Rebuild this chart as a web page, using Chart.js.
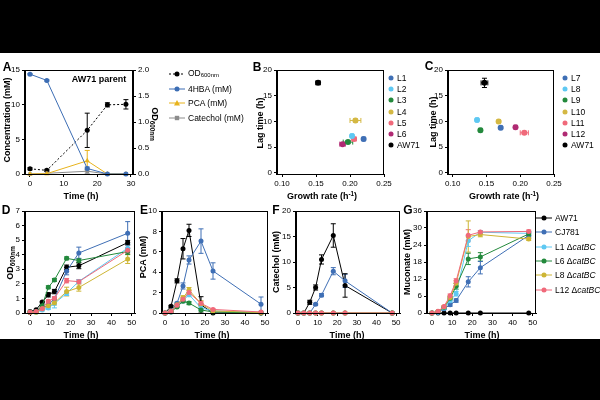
<!DOCTYPE html>
<html><head><meta charset="utf-8">
<script src="https://cdn.jsdelivr.net/npm/chart.js@4.4.1/dist/chart.umd.min.js"></script>
<style>
body{margin:0;width:600px;height:400px;background:#000;position:relative;overflow:hidden;font-family:'Liberation Sans',Arial,sans-serif}
#white{position:absolute;left:0;top:53px;width:600px;height:286px;background:#fff}
canvas{position:absolute}
.t{position:absolute;white-space:nowrap;color:#000;line-height:1;z-index:5}
.t sub{font-size:0.7em;vertical-align:-0.25em}
.t sup{font-size:0.7em;vertical-align:0.45em}
.lg{position:absolute;z-index:5}
</style></head>
<body><div id="white"></div>
<script>
// ---------- DATA ----------
// Panel A (AW71 parent)
const timeA = [0, 5, 17, 23, 28.5];
const odA = [0.10, 0.07, 0.84, 1.33, 1.34];
const odErrA = [0.02, 0.02, 0.33, 0.04, 0.09];
const hbaA = [14.4, 13.5, 0.8, 0, 0];
const hbaErrA = [0.1, 0.1, 0.2, 0, 0];
const pcaA = [0, 0.05, 1.9, 0, 0];
const pcaErrA = [0, 0, 1.5, 0, 0];
const catA = [0, 0.1, 0.4, 0, 0];
const catErrA = [0, 0, 0.3, 0, 0];
const seriesA = ['OD<sub>600nm</sub>', '4HBA (mM)', 'PCA (mM)', 'Catechol (mM)'];

// Panel B
const strainsB = ['L1', 'L2', 'L3', 'L4', 'L5', 'L6', 'AW71'];
const rateB = [0.220, 0.203, 0.197, 0.208, 0.206, 0.189, 0.153];
const rateErrB = [0.002, 0.002, 0.007, 0.008, 0.003, 0.004, 0.003];
const lagB = [6.6, 7.2, 6.0, 10.2, 6.6, 5.6, 17.5];
const lagErrB = [0.2, 0.2, 0.3, 0.3, 0.2, 0.2, 0.3];

// Panel C
const strainsC = ['L7', 'L8', 'L9', 'L10', 'L11', 'L12', 'AW71'];
const rateC = [0.171, 0.136, 0.141, 0.168, 0.206, 0.193, 0.147];
const rateErrC = [0.002, 0.002, 0.002, 0.002, 0.006, 0.002, 0.005];
const lagC = [8.8, 10.3, 8.3, 10.0, 7.8, 8.9, 17.5];
const lagErrC = [0.2, 0.2, 0.2, 0.2, 0.3, 0.2, 0.9];

// Panels D-G
const timeDG = [0, 3, 6, 9, 12, 18, 24, 48];
const strainsDG = ['AW71', 'CJ781', 'L1 Δ<i>catBC</i>', 'L6 Δ<i>catBC</i>', 'L8 Δ<i>catBC</i>', 'L12 Δ<i>catBC</i>'];
// D: OD600
const odD_AW71 = [0.1, 0.22, 0.75, 1.25, 1.47, 3.14, 3.24, 4.83];
const odD_CJ781 = [0.05, 0.1, 0.3, 0.55, 0.98, 2.87, 4.12, 5.47];
const odD_L1 = [0.05, 0.05, 0.2, 0.35, 0.65, 1.35, 2.17, 4.45];
const odD_L6 = [0.05, 0.1, 0.5, 1.77, 2.27, 3.75, 3.6, 4.22];
const odD_L8 = [0.05, 0.05, 0.3, 0.5, 0.7, 1.47, 1.75, 3.7];
const odD_L12 = [0.05, 0.1, 0.3, 0.8, 1.02, 2.22, 2.15, 4.3];
const odDErr_AW71 = [0, 0, 0.05, 0.15, 0.15, 0.15, 0.2, 0.15];
const odDErr_CJ781 = [0, 0, 0.05, 0.1, 0.1, 0.25, 0.4, 0.8];
const odDErr_L1 = [0, 0, 0.05, 0.1, 0.3, 0.15, 0.1, 0.3];
const odDErr_L6 = [0, 0, 0.05, 0.1, 0.1, 0.1, 0.15, 0.2];
const odDErr_L8 = [0, 0, 0.05, 0.1, 0.15, 0.3, 0.25, 0.3];
const odDErr_L12 = [0, 0, 0.05, 0.1, 0.1, 0.15, 0.15, 0.2];
// E: PCA
const pcaE_AW71 = [0, 0.65, 3.15, 6.3, 8.1, 0.8, 0, 0];
const pcaE_CJ781 = [0, 0.15, 0.95, 2.65, 5.2, 7.05, 4.12, 0.87];
const pcaE_L1 = [0, 0.1, 0.7, 1.2, 1.8, 0.5, 0.2, 0.05];
const pcaE_L6 = [0, 0.1, 0.6, 1.15, 0.97, 0.3, 0.1, 0];
const pcaE_L8 = [0, 0.15, 0.8, 1.5, 2.25, 0.9, 0.2, 0.05];
const pcaE_L12 = [0, 0.15, 0.75, 1.35, 2.0, 0.95, 0.35, 0.1];
const pcaEErr_AW71 = [0, 0.1, 0.2, 1.0, 0.6, 0.8, 0, 0];
const pcaEErr_CJ781 = [0, 0.05, 0.1, 0.3, 0.4, 1.2, 0.8, 0.7];
const pcaEErr_L1 = [0, 0, 0.1, 0.2, 0.2, 0.2, 0.05, 0];
const pcaEErr_L6 = [0, 0, 0.05, 0.1, 0.15, 0.1, 0, 0];
const pcaEErr_L8 = [0, 0, 0.1, 0.2, 0.25, 0.3, 0.05, 0];
const pcaEErr_L12 = [0, 0, 0.1, 0.2, 0.2, 0.2, 0.1, 0];
// F: catechol
const catF_AW71 = [0, 0, 2.1, 5.0, 10.5, 15.2, 5.4, 0];
const catF_CJ781 = [0, 0, 0, 1.7, 3.5, 8.2, 6.3, 0];
const catF_L1 = [0, 0, 0, 0, 0, 0, 0, 0];
const catF_L6 = [0, 0, 0, 0, 0, 0, 0, 0];
const catF_L8 = [0, 0, 0, 0, 0, 0, 0, 0];
const catF_L12 = [0, 0, 0, 0, 0, 0, 0, 0];
const catFErr_AW71 = [0, 0, 0.4, 0.5, 0.9, 2.3, 2.3, 0];
const catFErr_CJ781 = [0, 0, 0, 0.2, 0.3, 0.7, 1.3, 0];
// G: muconate
const mucG_AW71 = [0, 0, 0, 0, 0, 0, 0, 0];
const mucG_CJ781 = [0, 0.3, 1.5, 2.9, 4.4, 11.0, 16.0, 27.4];
const mucG_L1 = [0, 0.3, 1.8, 4.3, 6.8, 25.5, 28.5, 28.1];
const mucG_L6 = [0, 0.5, 2.0, 5.2, 9.4, 19.1, 19.8, 27.9];
const mucG_L8 = [0, 0.5, 2.2, 5.5, 10.5, 27.0, 27.7, 26.1];
const mucG_L12 = [0, 0.6, 2.3, 6.1, 11.3, 27.4, 28.6, 28.8];
const mucGErr_CJ781 = [0, 0.1, 0.3, 0.5, 0.6, 1.8, 2.2, 1.0];
const mucGErr_L1 = [0, 0.1, 0.3, 0.5, 0.8, 2.0, 0.5, 0.8];
const mucGErr_L6 = [0, 0.1, 0.3, 0.6, 1.0, 2.0, 1.5, 0.8];
const mucGErr_L8 = [0, 0.1, 0.3, 0.6, 1.0, 5.5, 0.8, 0.5];
const mucGErr_L12 = [0, 0.1, 0.3, 0.6, 0.8, 2.0, 0.5, 0.5];

// ---------- STYLE ----------
const FONT = "'Liberation Sans', Arial, sans-serif";
const colA = ['#000000', '#3c6db4', '#e8b31c', '#8c8c8c'];
const colB = ['#3f6fb5', '#5ec8f2', '#23893c', '#d4b843', '#f0697a', '#b02a73', '#000000'];
const colDG = ['#000000', '#3f6fb5', '#5ec8f2', '#23893c', '#cdb534', '#f0697a'];
const PT = 8, PR = 12, WY = 30, HX = 20, WY2 = 26;

const errPlugin = {
  id: 'err',
  beforeDatasetsDraw(c) {
    const ctx = c.ctx;
    c.data.datasets.forEach((ds, i) => {
      const m = c.getDatasetMeta(i);
      const xs = m.xScale, ys = m.yScale;
      ctx.save();
      ctx.strokeStyle = ds.borderColor; ctx.lineWidth = 1;
      ds.data.forEach((p, j) => {
        const px = xs.getPixelForValue(p.x), py = ys.getPixelForValue(p.y);
        const e = ds.yErr && ds.yErr[j];
        if (e) {
          const a = ys.getPixelForValue(p.y + e);
          const lo = p.y - e;
          const b = ys.getPixelForValue(Math.max(lo, ys.min));
          ctx.beginPath();
          ctx.moveTo(px, a); ctx.lineTo(px, b);
          ctx.moveTo(px - 2.5, a); ctx.lineTo(px + 2.5, a);
          if (lo >= ys.min) { ctx.moveTo(px - 2.5, b); ctx.lineTo(px + 2.5, b); }
          ctx.stroke();
        }
        const ex = ds.xErr && ds.xErr[j];
        if (ex) {
          const a = xs.getPixelForValue(p.x - ex), b = xs.getPixelForValue(p.x + ex);
          ctx.beginPath();
          ctx.moveTo(a, py); ctx.lineTo(b, py);
          ctx.moveTo(a, py - 2.5); ctx.lineTo(a, py + 2.5);
          ctx.moveTo(b, py - 2.5); ctx.lineTo(b, py + 2.5);
          ctx.stroke();
        }
      });
      ctx.restore();
    });
  }
};
const boxPlugin = {
  id: 'box',
  afterDraw(c) {
    const a = c.chartArea, ctx = c.ctx;
    ctx.save(); ctx.strokeStyle = '#000'; ctx.lineWidth = 1;
    ctx.strokeRect(Math.round(a.left) - 0.5, Math.round(a.top) + 0.5, Math.round(a.right) - Math.round(a.left), Math.round(a.bottom) - Math.round(a.top));
    ctx.restore();
  }
};

function axis(pos, min, max, ticks, dec) {
  return {
    type: 'linear', position: pos, min, max,
    afterBuildTicks: s => { s.ticks = ticks.map(v => ({ value: v })); },
    afterFit: s => { if (pos === 'bottom') s.height = HX; else s.width = (pos === 'left' ? WY : WY2); },
    grid: { display: true, drawOnChartArea: false, drawTicks: true, tickLength: 3, color: '#000', lineWidth: 1 },
    border: { display: true, color: '#000', width: 1 },
    ticks: { color: '#000', font: { family: FONT, size: 8 }, padding: 2, autoSkip: false, maxRotation: 0, minRotation: 0,
      callback: v => Number(v).toFixed(dec) }
  };
}

function panel(area, scales, datasets, hasY2) {
  const cv = document.createElement('canvas');
  const w = area.r - area.l + WY + (hasY2 ? WY2 : 0) + PR;
  const h = area.b - area.t + PT + HX;
  cv.width = w; cv.height = h;
  cv.style.left = (area.l - WY) + 'px'; cv.style.top = (area.t - PT) + 'px';
  cv.style.width = w + 'px'; cv.style.height = h + 'px';
  document.body.appendChild(cv);
  return new Chart(cv, {
    type: 'line',
    data: { datasets },
    options: {
      responsive: false, animation: false, devicePixelRatio: 1,
      layout: { padding: { top: PT, right: PR, left: 0, bottom: 0 } },
      plugins: { legend: { display: false }, tooltip: { enabled: false } },
      scales
    },
    plugins: [errPlugin, boxPlugin]
  });
}

function ser(xs, ys, errs, color, extra) {
  return Object.assign({
    data: xs.map((x, i) => ({ x, y: ys[i] })), yErr: errs,
    borderColor: color, backgroundColor: color, pointBackgroundColor: color, pointBorderColor: color,
    pointStyle: 'circle', pointRadius: 2.5, pointBorderWidth: 0, borderWidth: 1, tension: 0, clip: false, showLine: true
  }, extra || {});
}

function txt(html, x, y, o) {
  o = o || {};
  const d = document.createElement('div');
  d.className = 't'; d.innerHTML = html;
  d.style.left = x + 'px'; d.style.top = y + 'px';
  d.style.fontSize = (o.size || 9) + 'px';
  d.style.fontWeight = o.bold ? 'bold' : 'normal';
  let tr = o.anchor === 'left' ? 'translate(0,-50%)' : 'translate(-50%,-50%)';
  if (o.rot) tr += ' rotate(' + o.rot + 'deg)';
  d.style.transform = tr;
  document.body.appendChild(d);
}
function marker(x, y, color, shape, line, dashed) {
  const ns = 'http://www.w3.org/2000/svg';
  const s = document.createElementNS(ns, 'svg');
  s.setAttribute('width', 18); s.setAttribute('height', 8); s.setAttribute('class', 'lg');
  s.style.left = (x - 9) + 'px'; s.style.top = (y - 4) + 'px';
  let inner = '';
  if (line) inner += `<line x1="1" y1="4" x2="17" y2="4" stroke="${color}" stroke-width="1" ${dashed ? 'stroke-dasharray="2,2"' : ''}/>`;
  if (shape === 'triangle') inner += `<polygon points="9,1 12,6.5 6,6.5" fill="${color}"/>`;
  else if (shape === 'rect') inner += `<rect x="6.8" y="1.8" width="4.4" height="4.4" fill="${color}"/>`;
  else inner += `<circle cx="9" cy="4" r="2.5" fill="${color}"/>`;
  s.innerHTML = inner;
  document.body.appendChild(s);
}

// ---------- PANEL A ----------
panel({ l: 25, t: 70, r: 133, b: 174 }, {
  x: axis('bottom', -1.485, 30.6, [0, 10, 20, 30], 0),
  y: axis('left', 0, 15, [0, 5, 10, 15], 0),
  y2: axis('right', 0, 2.0, [0, 0.5, 1.0, 1.5, 2.0], 1)
}, [
  ser(timeA, hbaA, hbaErrA, colA[1]),
  ser(timeA, pcaA, pcaErrA, colA[2], { pointStyle: 'triangle', pointRadius: 3 }),
  ser(timeA, catA, catErrA, colA[3], { pointStyle: 'rect', pointRadius: 2.5 }),
  ser(timeA, odA, odErrA, colA[0], { yAxisID: 'y2', borderDash: [2, 2] })
], true);

// ---------- PANEL B ----------
const dsB = strainsB.map((s, i) => Object.assign(ser([rateB[i]], [lagB[i]], [lagErrB[i]], colB[i], { pointRadius: 3 }), { xErr: [rateErrB[i]] }));
panel({ l: 277, t: 70, r: 384, b: 174 }, {
  x: axis('bottom', 0.0926, 0.25, [0.10, 0.15, 0.20, 0.25], 2),
  y: axis('left', -0.2, 20, [0, 5, 10, 15, 20], 0)
}, dsB, false);

// ---------- PANEL C ----------
const dsC = strainsC.map((s, i) => Object.assign(ser([rateC[i]], [lagC[i]], [lagErrC[i]], colB[i], { pointRadius: 3 }), { xErr: [rateErrC[i]] }));
panel({ l: 448, t: 70, r: 554, b: 174 }, {
  x: axis('bottom', 0.093, 0.25, [0.10, 0.15, 0.20, 0.25], 2),
  y: axis('left', -0.2, 20, [0, 5, 10, 15, 20], 0)
}, dsC, false);

// ---------- PANELS D-G ----------
const tx = [0, 10, 20, 30, 40, 50];
function dgSets(vals, errs) {
  return vals.map((v, i) => ser(timeDG, v, errs[i], colDG[i])).reverse();
}
panel({ l: 25, t: 211, r: 135, b: 313 }, {
  x: axis('bottom', -2.46, 51.6, tx, 0),
  y: axis('left', 0, 7, [0, 1, 2, 3, 4, 5, 6, 7], 0)
}, dgSets([odD_AW71, odD_CJ781, odD_L1, odD_L6, odD_L8, odD_L12],
          [odDErr_AW71, odDErr_CJ781, odDErr_L1, odDErr_L6, odDErr_L8, odDErr_L12]), false);

panel({ l: 162, t: 211, r: 268, b: 313 }, {
  x: axis('bottom', -1.5, 51.5, tx, 0),
  y: axis('left', 0, 10, [0, 2, 4, 6, 8, 10], 0)
}, dgSets([pcaE_AW71, pcaE_CJ781, pcaE_L1, pcaE_L6, pcaE_L8, pcaE_L12],
          [pcaEErr_AW71, pcaEErr_CJ781, pcaEErr_L1, pcaEErr_L6, pcaEErr_L8, pcaEErr_L12]), false);

panel({ l: 296, t: 211, r: 400, b: 313 }, {
  x: axis('bottom', -1.0, 52, tx, 0),
  y: axis('left', 0, 20, [0, 5, 10, 15, 20], 0)
}, dgSets([catF_AW71, catF_CJ781, catF_L1, catF_L6, catF_L8, catF_L12],
          [catFErr_AW71, catFErr_CJ781, null, null, null, null]), false);

panel({ l: 427, t: 211, r: 536, b: 313 }, {
  x: axis('bottom', -2.46, 51.6, tx, 0),
  y: axis('left', 0, 36, [0, 6, 12, 18, 24, 30, 36], 0)
}, dgSets([mucG_AW71, mucG_CJ781, mucG_L1, mucG_L6, mucG_L8, mucG_L12],
          [null, mucGErr_CJ781, mucGErr_L1, mucGErr_L6, mucGErr_L8, mucGErr_L12]), false);

// ---------- TEXT ----------
const letters = [['A', 7, 67], ['B', 257, 67], ['C', 429, 66], ['D', 6, 210], ['E', 144, 210], ['F', 276, 210], ['G', 408, 210]];
letters.forEach(l => txt(l[0], l[1], l[2], { bold: true, size: 12 }));

txt('Time (h)', 81, 196, { bold: true });
txt('Concentration (mM)', 7, 120, { bold: true, rot: -90 });
txt('OD<sub>600nm</sub>', 154, 124, { bold: true, rot: 90 });
txt('AW71 parent', 99, 79, { bold: true, size: 9 });

txt('Lag time (h)', 260, 123, { bold: true, rot: -90 });
txt('Growth rate (h<sup>-1</sup>)', 322, 196, { bold: true });
txt('Lag time (h)', 433, 122, { bold: true, rot: -90 });
txt('Growth rate (h<sup>-1</sup>)', 504, 196, { bold: true });

txt('OD<sub>600nm</sub>', 11, 263, { bold: true, rot: -90 });
txt('Time (h)', 81, 335, { bold: true });
txt('PCA (mM)', 143, 257, { bold: true, rot: -90 });
txt('Time (h)', 212, 335, { bold: true });
txt('Catechol (mM)', 276, 262, { bold: true, rot: -90 });
txt('Time (h)', 347, 335, { bold: true });
txt('Muconate (mM)', 407, 262, { bold: true, rot: -90 });
txt('Time (h)', 482, 335, { bold: true });

// legends
const shapesA = ['circle', 'circle', 'triangle', 'rect'];
const orderA = [0, 1, 2, 3];
orderA.forEach((k, i) => {
  const y = 74 + i * 14.7;
  marker(177, y, colA[k], shapesA[k], true, k === 0);
  txt(seriesA[k], 188, y, { anchor: 'left', size: 8.5 });
});
strainsB.forEach((s, i) => {
  const y = 78 + i * 11.2;
  marker(391, y, colB[i], 'circle', false);
  txt(s, 397, y, { anchor: 'left', size: 8.5 });
});
strainsC.forEach((s, i) => {
  const y = 78 + i * 11.2;
  marker(565, y, colB[i], 'circle', false);
  txt(s, 571, y, { anchor: 'left', size: 8.5 });
});
strainsDG.forEach((s, i) => {
  const y = 218 + i * 14.3;
  marker(544, y, colDG[i], 'circle', true);
  txt(s, 555, y, { anchor: 'left', size: 8.5 });
});
</script>
</body></html>
